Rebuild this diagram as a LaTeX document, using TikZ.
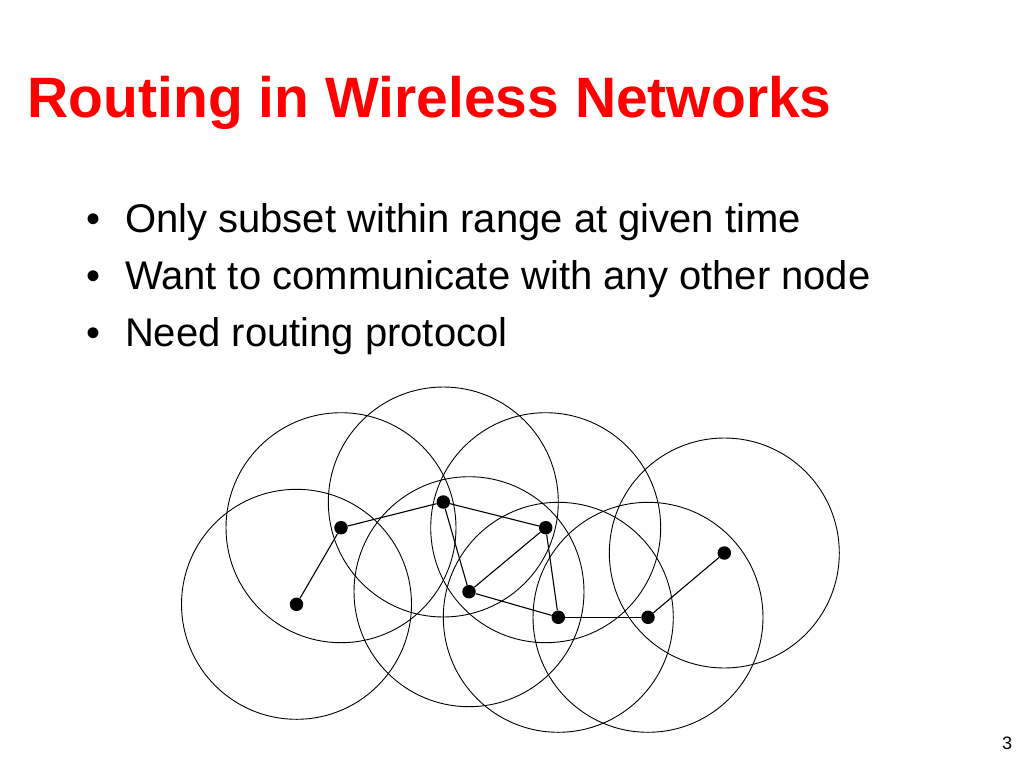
\documentclass[tikz,border=0pt]{standalone}
\usepackage{fontspec}
\setmainfont{Liberation Sans}
\usepackage{xcolor}
\definecolor{titleRed}{HTML}{FF0000}
\definecolor{inkBlack}{HTML}{000000}

\begin{document}
\begin{tikzpicture}[x=1pt, y=-1pt,
        station/.style={circle, fill=inkBlack, inner sep=0pt, minimum size=13.5pt},
        radioRange/.style={draw=inkBlack, line width=0.9pt},
        link/.style={draw=inkBlack, line width=1.1pt},
        slideText/.style={anchor=base west, inner sep=0pt, font=\fontsize{40}{48}\selectfont},
        bulletDot/.style={anchor=base, inner sep=0pt, font=\fontsize{40}{48}\selectfont}
    ]
        \useasboundingbox (0,0) rectangle (1024,768);

        % Title
        \node[anchor=base west, inner sep=0pt, text=titleRed, font=\fontsize{57}{68}\selectfont\bfseries] (title) at (27.5,117.3) {Routing in Wireless Networks};

        % Bullets
        \node[bulletDot] (b1) at (93.3,232.7) {•};
        \node[slideText] (t1) at (124.8,232.7) {Only subset within range at given time};
        \node[bulletDot] (b2) at (93.3,289.3) {•};
        \node[slideText] (t2) at (124.8,289.3) {Want to communicate with any other node};
        \node[bulletDot] (b3) at (93.3,346) {•};
        \node[slideText] (t3) at (124.8,346) {Need routing protocol};

        % Stations
        \node[station] (s1) at (296.5,604.3) {};
        \node[station] (s2) at (341,527.7) {};
        \node[station] (s3) at (443.3,502) {};
        \node[station] (s4) at (545.7,527.7) {};
        \node[station] (s5) at (469,591.7) {};
        \node[station] (s6) at (558.3,617.3) {};
        \node[station] (s7) at (648,617.3) {};
        \node[station] (s8) at (724.3,553) {};

        % Radio ranges
        \foreach \s in {s1,s2,s3,s4,s5,s6,s7,s8}
            \draw[radioRange] (\s) circle[radius=115pt];

        % Links
        \draw[link] (s1) -- (s2);
        \draw[link] (s2) -- (s3);
        \draw[link] (s3) -- (s4);
        \draw[link] (s3) -- (s5);
        \draw[link] (s4) -- (s5);
        \draw[link] (s4) -- (s6);
        \draw[link] (s5) -- (s6);
        \draw[link] (s6) -- (s7);
        \draw[link] (s7) -- (s8);

        % Page number
        \node[anchor=base west, inner sep=0pt, font=\fontsize{18}{22}\selectfont] (pageNo) at (1002,749.3) {3};
    \end{tikzpicture}
\end{document}
